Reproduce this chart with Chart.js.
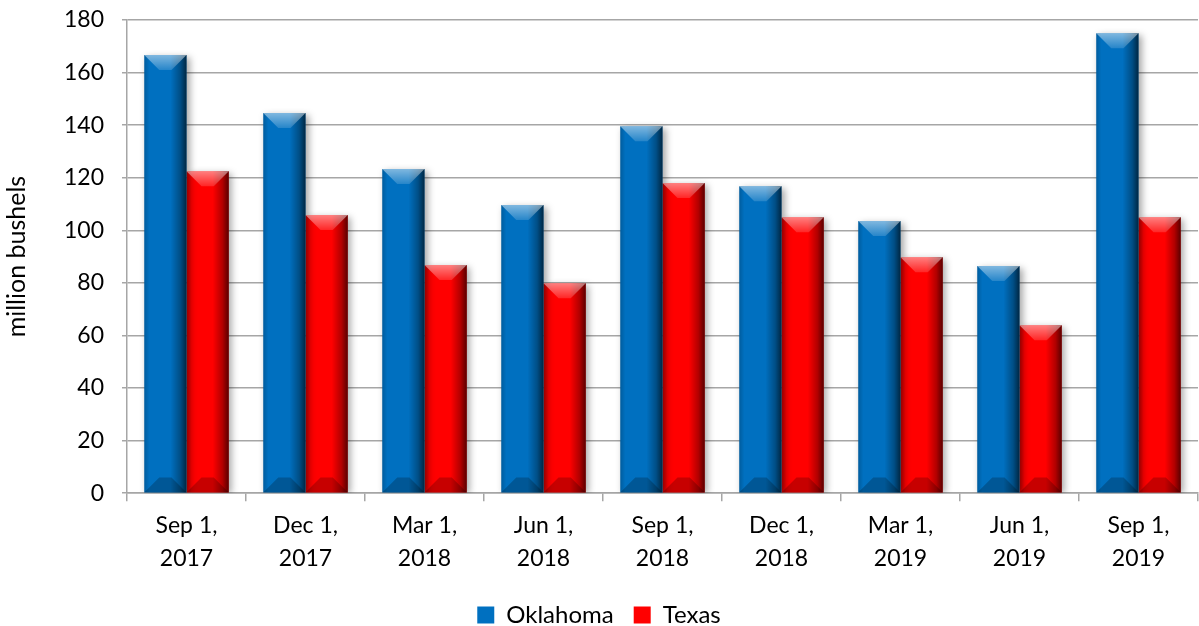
<!DOCTYPE html>
<html>
<head>
<meta charset="utf-8">
<script src="https://cdn.jsdelivr.net/npm/chart.js@4/dist/chart.umd.min.js"></script>
<style>
  body { margin: 0; background: #fff; }
  #wrap { width: 1199px; height: 626px; }
</style>
</head>
<body>
<div id="wrap"><canvas id="chart" width="1199" height="626"></canvas></div>
<script>
const categories = [
  ["Sep 1,", "2017"], ["Dec 1,", "2017"], ["Mar 1,", "2018"],
  ["Jun 1,", "2018"], ["Sep 1,", "2018"], ["Dec 1,", "2018"],
  ["Mar 1,", "2019"], ["Jun 1,", "2019"], ["Sep 1,", "2019"]
];
const oklahoma = [166.7, 144.6, 123.3, 109.6, 139.6, 116.8, 103.5, 86.4, 175.0];
const texas = [122.5, 105.8, 86.8, 79.9, 118.0, 105.0, 89.8, 63.9, 105.0];
const yTicks = [0, 20, 40, 60, 80, 100, 120, 140, 160, 180];

const FONT = "Lato, 'Open Sans', sans-serif";

// shadow under each bar set
const shadowPlugin = {
  id: "barShadow",
  beforeDatasetDraw(chart) {
    const ctx = chart.ctx;
    ctx.save();
    ctx.shadowColor = "rgba(0,0,0,0.35)";
    ctx.shadowBlur = 7;
    ctx.shadowOffsetX = 3;
    ctx.shadowOffsetY = 2;
  },
  afterDatasetDraw(chart) {
    chart.ctx.restore();
  }
};

// bevel look on top of the flat bars
const bevelPlugin = {
  id: "bevel",
  afterDatasetsDraw(chart) {
    const ctx = chart.ctx;
    chart.data.datasets.forEach((ds, i) => {
      const meta = chart.getDatasetMeta(i);
      meta.data.forEach((bar) => {
        const p = bar.getProps(["x", "y", "base", "width"], true);
        const l = p.x - p.width / 2, r = p.x + p.width / 2;
        const top = p.y, base = p.base;
        const b = Math.min(15, (base - top) / 2);
        ctx.save();

        // side shading
        let g = ctx.createLinearGradient(l, 0, r, 0);
        g.addColorStop(0, "rgba(0,0,0,0.18)");
        g.addColorStop(0.12, "rgba(0,0,0,0)");
        g.addColorStop(0.62, "rgba(0,0,0,0)");
        g.addColorStop(0.85, "rgba(0,0,0,0.3)");
        g.addColorStop(1, "rgba(0,0,0,0.65)");
        ctx.fillStyle = g;
        ctx.fillRect(l, top, r - l, base - top);

        // top face
        g = ctx.createLinearGradient(0, top, 0, top + b);
        g.addColorStop(0, "rgba(255,255,255,0.5)");
        g.addColorStop(1, "rgba(255,255,255,0.15)");
        ctx.fillStyle = g;
        ctx.beginPath();
        ctx.moveTo(l, top);
        ctx.lineTo(r, top);
        ctx.lineTo(r - b, top + b);
        ctx.lineTo(l + b, top + b);
        ctx.closePath();
        ctx.fill();

        // bottom face
        ctx.fillStyle = "rgba(0,0,0,0.22)";
        ctx.beginPath();
        ctx.moveTo(l, base);
        ctx.lineTo(r, base);
        ctx.lineTo(r - b, base - b);
        ctx.lineTo(l + b, base - b);
        ctx.closePath();
        ctx.fill();
        ctx.restore();
      });
    });
  }
};

new Chart(document.getElementById("chart"), {
  type: "bar",
  data: {
    labels: categories,
    datasets: [
      { label: "Oklahoma", data: oklahoma, backgroundColor: "#0070c0" },
      { label: "Texas", data: texas, backgroundColor: "#ff0000" }
    ]
  },
  options: {
    responsive: false,
    animation: false,
    datasets: { bar: { categoryPercentage: 0.71, barPercentage: 1.0 } },
    layout: { padding: { top: 0, right: 1, left: 0, bottom: -11 } },
    plugins: {
      legend: {
        position: "bottom",
        labels: {
          color: "#000",
          font: { family: FONT, size: 24 },
          boxWidth: 17,
          boxHeight: 17,
          padding: 20
        }
      },
      tooltip: { enabled: false }
    },
    scales: {
      x: {
        grid: {
          drawOnChartArea: false,
          drawTicks: true,
          tickLength: 8,
          color: "#a6a6a6",
          lineWidth: 1.5
        },
        border: { color: "#a6a6a6", width: 1.5 },
        ticks: {
          color: "#000",
          font: { family: FONT, size: 23, lineHeight: 1.43 },
          padding: 8,
          maxRotation: 0
        }
      },
      y: {
        min: 0,
        max: 180,
        afterBuildTicks(axis) {
          axis.ticks = yTicks.map((v) => ({ value: v }));
        },
        // the tick padding also gets added above the top tick, keep it tight
        afterFit(axis) {
          axis.paddingTop = 20;
        },
        grid: { color: "#a6a6a6", lineWidth: 1.5, tickLength: 5 },
        border: { color: "#a6a6a6", width: 1.5 },
        ticks: {
          color: "#000",
          font: { family: FONT, size: 23 },
          padding: 18
        },
        title: {
          display: true,
          text: "million bushels",
          color: "#000",
          font: { family: FONT, size: 25 },
          padding: { top: 2, bottom: 14 }
        }
      }
    }
  },
  plugins: [shadowPlugin, bevelPlugin]
});
</script>
</body>
</html>
